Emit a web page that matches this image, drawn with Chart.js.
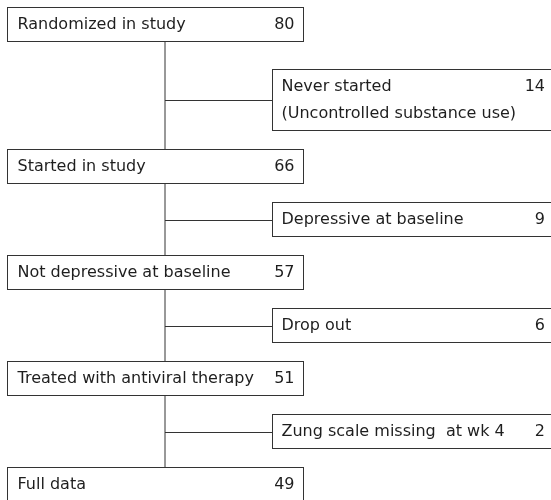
<!DOCTYPE html>
<html lang="en">
<head>
    <meta charset="UTF-8">
    <title>Study flow</title>
    <script src="https://cdn.jsdelivr.net/npm/chart.js"></script>
    <style>
        html, body { margin: 0; padding: 0; background: #fff; }
        #wrap { width: 551px; height: 500px; }
    </style>
</head>
<body>
    <div id="wrap"><canvas id="flow" width="551" height="500"></canvas></div>

    <script>
        // flow data
        const steps = ['Randomized in study', 'Started in study', 'Not depressive at baseline', 'Treated with antiviral therapy', 'Full data'];
        const stepCounts = [80, 66, 57, 51, 49];
        const exclusions = [
            ['Never started', '(Uncontrolled substance use)'],
            ['Depressive at baseline'],
            ['Drop out'],
            ['Zung scale missing  at wk 4']
        ];
        const exclusionCounts = [14, 9, 6, 2];

        // layout (pixel units on the hidden scales)
        const layout = {
            top: 7, boxH: 34, lineH: 27, gap: 19, extraGap: 9,
            mainLeft: 7.5, mainRight: 303.5, spineX: 165,
            sideLeft: 272.5, sideRight: 560,
            padL: 10, padSideL: 9, numPadMain: 9, numPadSide: 6
        };

        // stack rows: main, exclusion, main, ... and work out their tops
        const rows = [];
        let y = layout.top;
        steps.forEach((s, i) => {
            rows.push({ kind: 'main', lines: [s], count: stepCounts[i], top: y, h: layout.boxH });
            y += layout.boxH + layout.gap;
            if (i < exclusions.length) {
                const extra = exclusions[i].length - 1;
                y += layout.extraGap * extra;
                const h = layout.boxH + layout.lineH * extra;
                rows.push({ kind: 'side', lines: exclusions[i], count: exclusionCounts[i], top: y, h: h });
                y += h + layout.gap;
            }
        });

        const flowPlugin = {
            id: 'flowBoxes',
            afterDatasetsDraw(chart) {
                const ctx = chart.ctx;
                const xs = chart.scales.x, ys = chart.scales.y;
                const px = v => xs.getPixelForValue(v);
                const py = v => ys.getPixelForValue(v);

                ctx.save();
                ctx.strokeStyle = '#333';
                ctx.lineWidth = 1;

                // spine from first box to last box
                const first = rows[0], last = rows[rows.length - 1];
                ctx.beginPath();
                ctx.moveTo(px(layout.spineX), py(first.top + first.h));
                ctx.lineTo(px(layout.spineX), py(last.top));
                ctx.stroke();

                rows.forEach(r => {
                    const isMain = r.kind === 'main';
                    const x0 = px(isMain ? layout.mainLeft : layout.sideLeft);
                    const x1 = px(isMain ? layout.mainRight : layout.sideRight);
                    const y0 = py(r.top) + 0.5, y1 = py(r.top + r.h) + 0.5;

                    if (!isMain) {
                        const cy = Math.round((y0 + y1) / 2) + 0.5;
                        ctx.beginPath();
                        ctx.moveTo(px(layout.spineX), cy);
                        ctx.lineTo(x0, cy);
                        ctx.stroke();
                    }

                    ctx.fillStyle = '#fff';
                    ctx.fillRect(x0, y0, x1 - x0, y1 - y0);
                    ctx.strokeRect(x0, y0, x1 - x0, y1 - y0);

                    ctx.fillStyle = '#1e1e1e';
                    ctx.font = '16px "DejaVu Sans"';
                    ctx.textBaseline = 'middle';
                    const n = r.lines.length;
                    const mid = (y0 + y1) / 2;
                    r.lines.forEach((t, k) => {
                        const ty = mid + (k - (n - 1) / 2) * layout.lineH;
                        ctx.textAlign = 'left';
                        ctx.fillText(t, x0 + (isMain ? layout.padL : layout.padSideL), ty);
                        if (k === 0) {
                            ctx.textAlign = 'right';
                            const nx = isMain ? x1 - layout.numPadMain : px(551 - layout.numPadSide);
                            ctx.fillText(String(r.count), nx, ty);
                        }
                    });
                });
                ctx.restore();
            }
        };

        new Chart(document.getElementById('flow').getContext('2d'), {
            type: 'scatter',
            data: {
                datasets: [{
                    data: rows.map(r => ({ x: r.kind === 'main' ? layout.mainLeft : layout.sideLeft, y: r.top })),
                    pointRadius: 0
                }]
            },
            options: {
                responsive: false,
                animation: false,
                layout: { padding: 0 },
                plugins: { legend: { display: false }, tooltip: { enabled: false } },
                scales: {
                    x: { type: 'linear', min: 0, max: 551, display: false },
                    y: { type: 'linear', min: 0, max: 500, reverse: true, display: false }
                }
            },
            plugins: [flowPlugin]
        });
    </script>
</body>
</html>
